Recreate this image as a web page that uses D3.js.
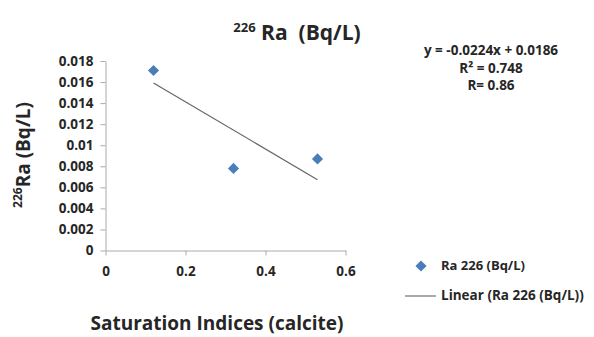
<!DOCTYPE html>
<html><head><meta charset="utf-8">
<script src="https://cdn.jsdelivr.net/npm/d3@7"></script>
<style>body{margin:0;background:#fff}svg{display:block}text{font-family:"Open Sans",Lato,sans-serif;fill:#262626}</style>
</head><body>
<script>
const xValues=[0.12,0.32,0.53];
const yValues=[0.0171,0.0078,0.0087];
const xTicks=[0,0.2,0.4,0.6];
const yTicks=[0,0.002,0.004,0.006,0.008,0.01,0.012,0.014,0.016,0.018];
const slope=-0.0224, intercept=0.0186;
const eqLines=["y = -0.0224x + 0.0186","R² = 0.748","R= 0.86"];
const seriesName="Ra 226 (Bq/L)";
const trendName="Linear (Ra 226 (Bq/L))";

const W=594,H=337;
const svg=d3.select("body").append("svg").attr("width",W).attr("height",H);
const x=d3.scaleLinear().domain([0,0.6]).range([105.5,345.5]);
const y=d3.scaleLinear().domain([0,0.018]).range([250.5,61]);

const fmt=d=>d===0?"0":String(+d.toFixed(3));
const ya=svg.append("g").attr("transform","translate(105.5,0)")
  .call(d3.axisLeft(y).tickValues(yTicks).tickFormat(fmt).tickSize(5).tickSizeOuter(0));
const xa=svg.append("g").attr("transform","translate(0,250.5)")
  .call(d3.axisBottom(x).tickValues(xTicks).tickFormat(d=>d===0?"0":d.toFixed(1)).tickSize(5).tickSizeOuter(0));
[ya,xa].forEach(g=>{
  g.select(".domain").attr("stroke","#aaa");
  g.selectAll(".tick line").attr("stroke","#aaa");
  g.selectAll(".tick text").attr("font-size",13.5).attr("font-weight","bold").attr("fill","#262626");
});
ya.selectAll(".tick text").attr("x",-12);
xa.selectAll(".tick text").attr("y",21).attr("dy","0.32em");

// trendline
const xs=d3.extent(xValues);
svg.append("line")
  .attr("x1",x(xs[0])).attr("y1",y(slope*xs[0]+intercept))
  .attr("x2",x(xs[1])).attr("y2",y(slope*xs[1]+intercept))
  .attr("stroke","#666").attr("stroke-width",1.2);

const diamond=d3.symbol().type(d3.symbolSquare).size(62);
svg.selectAll(".pt").data(xValues).enter().append("path")
  .attr("d",diamond).attr("fill","#4A7EBB")
  .attr("transform",(d,i)=>`translate(${x(d)},${y(yValues[i])}) rotate(45)`);

// title
const t=svg.append("text").attr("x",297).attr("y",40).attr("text-anchor","middle")
  .attr("font-size",21).attr("font-weight","bold");
t.append("tspan").attr("font-size",13).attr("dy",-8).text("226");
t.append("tspan").attr("dy",8).text(" Ra\u00a0\u00a0(Bq/L)");

// y axis title
const yt=svg.append("text").attr("transform","translate(30,155) rotate(-90)")
  .attr("text-anchor","middle").attr("font-size",19).attr("font-weight","bold");
yt.append("tspan").attr("font-size",12).attr("dy",-8).text("226");
yt.append("tspan").attr("dy",8).text("Ra (Bq/L)");

// x axis title
svg.append("text").attr("x",217).attr("y",330).attr("text-anchor","middle")
  .attr("font-size",19).attr("font-weight","bold").text("Saturation Indices (calcite)");

// equation
svg.selectAll(".eq").data(eqLines).enter().append("text")
  .attr("x",491).attr("y",(d,i)=>55+i*17.5).attr("text-anchor","middle")
  .attr("font-size",13.5).attr("font-weight","bold").text(d=>d);

// legend
svg.append("path").attr("d",diamond).attr("fill","#4A7EBB").attr("transform","translate(421,266) rotate(45)");
svg.append("text").attr("x",441).attr("y",270).attr("font-size",13).attr("font-weight","bold").text(seriesName);
svg.append("line").attr("x1",405).attr("x2",436).attr("y1",296).attr("y2",296).attr("stroke","#555");
svg.append("text").attr("x",441).attr("y",300).attr("font-size",13.5).attr("font-weight","bold").text(trendName);
</script>
</body></html>
